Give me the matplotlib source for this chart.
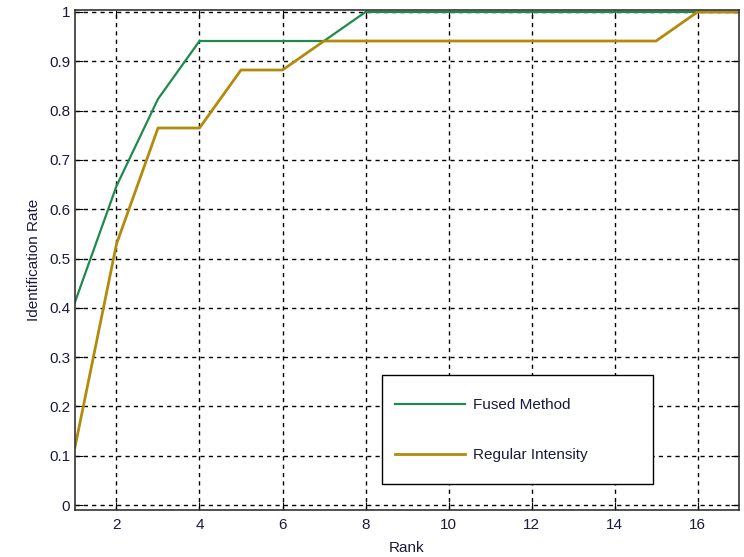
import numpy as np
import matplotlib
matplotlib.use('Agg')
import matplotlib.pyplot as plt
from matplotlib.patches import Rectangle

plt.rcParams['font.family'] = ['Liberation Sans', 'DejaVu Sans']

# identification rate per rank (17 subjects)
ranks = np.arange(1, 18)
fused = [7/17, 11/17, 14/17, 16/17, 16/17, 16/17, 16/17, 1, 1, 1, 1, 1, 1, 1, 1, 1, 1]
regular = [2/17, 9/17, 13/17, 13/17, 15/17, 15/17, 16/17, 16/17, 16/17, 16/17,
           16/17, 16/17, 16/17, 16/17, 16/17, 1, 1]
labels = ['Fused Method', 'Regular Intensity']

text_color = '#1a1a40'

fig = plt.figure(figsize=(7.44, 5.57), dpi=100)
ax = fig.add_axes([0.1008, 0.0844, 0.8925, 0.8976])

ax.plot(ranks, fused, color='#1f8a4c', lw=1.6, label=labels[0])
ax.plot(ranks, regular, color='#b38b0c', lw=2.0, label=labels[1])

ax.set_xlim(1, 17)
ax.set_ylim(-0.01, 1.004)
ax.set_xticks(np.arange(2, 17, 2))
ax.set_yticks(np.arange(0, 1.01, 0.1))
ax.set_yticklabels(['0', '0.1', '0.2', '0.3', '0.4', '0.5', '0.6', '0.7', '0.8', '0.9', '1'])

ax.grid(True, color='black', linestyle=(0, (3, 3)), linewidth=1.0)
ax.tick_params(direction='in', length=6, labelsize=11, labelcolor=text_color,
               top=True, right=True)
ax.tick_params(axis='x', pad=5.5)
for s in ax.spines.values():
    s.set_linewidth(1.2)
    s.set_color('#333333')

ax.set_xlabel('Rank', fontsize=11, color=text_color, labelpad=7)
ax.set_ylabel('Identification Rate', fontsize=11, color=text_color, labelpad=6)

# legend box drawn by hand so padding can differ per side
box = Rectangle((0.4623, 0.052), 0.408, 0.218, transform=ax.transAxes,
                facecolor='white', edgecolor='black', linewidth=1.0, zorder=3)
ax.add_patch(box)
leg = ax.legend(loc='upper left', bbox_to_anchor=(0.482, 0.224), frameon=False,
                fontsize=11, handlelength=4.6, labelspacing=2.36, borderpad=0,
                borderaxespad=0, handletextpad=0.5)
leg.set_zorder(5)
for t in leg.get_texts():
    t.set_color(text_color)

fig.savefig('out.png', dpi=100)
